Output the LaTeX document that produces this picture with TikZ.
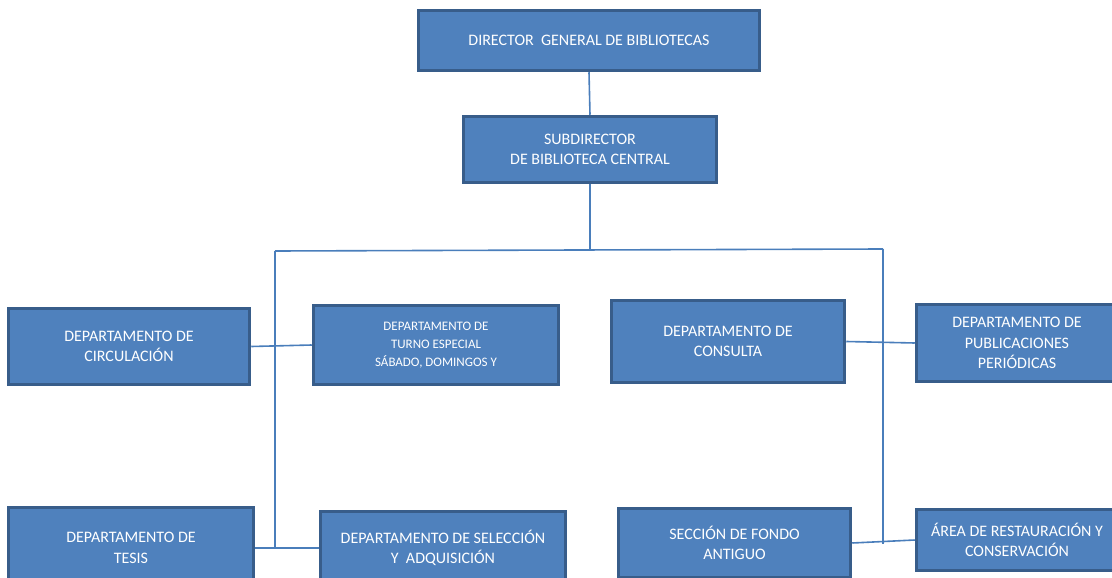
\documentclass[tikz,border=0pt]{standalone}
\usepackage{fontspec}
\setmainfont{Carlito}
\definecolor{boxfill}{HTML}{4F81BD}
\definecolor{boxline}{HTML}{385D8A}
\definecolor{linkline}{HTML}{4A7EBB}

\begin{document}
\begin{tikzpicture}[x=1pt,y=-1pt,
  unit/.style={draw=boxline,line width=3.5pt,fill=boxfill,text=white,align=center,inner sep=0pt,
    font=\fontsize{16}{20.5}\selectfont},
  small/.style={font=\fontsize{13}{18}\selectfont},
  link/.style={draw=linkline,line width=1.6pt}]
  \path[use as bounding box] (0,0) rectangle (1112,578);

  \node[unit,minimum width=341pt,minimum height=60pt] (dir) at (589,40.5) {DIRECTOR\ \ GENERAL DE BIBLIOTECAS};
  \node[unit,minimum width=253pt,minimum height=66pt] (sub) at (590,149.5) {SUBDIRECTOR\\DE BIBLIOTECA CENTRAL};

  \node[unit,minimum width=241pt,minimum height=76pt] (circ) at (129,346.5) {DEPARTAMENTO DE\\CIRCULACIÓN};
  \node[unit,small,minimum width=245pt,minimum height=79pt] (turno) at (436,345) {DEPARTAMENTO DE\\TURNO ESPECIAL\\SÁBADO, DOMINGOS Y};
  \node[unit,minimum width=233pt,minimum height=82pt] (cons) at (728,341.5) {DEPARTAMENTO DE\\CONSULTA};
  \node[unit,minimum width=201pt,minimum height=77pt] (publ) at (1017,343) {DEPARTAMENTO DE\\PUBLICACIONES\\PERIÓDICAS};

  \node[unit,minimum width=245pt,minimum height=81pt] (tesis) at (131,548) {DEPARTAMENTO DE\\TESIS};
  \node[unit,minimum width=245pt,minimum height=73pt] (selec) at (443,548) {DEPARTAMENTO DE SELECCIÓN\\Y\ \ ADQUISICIÓN};
  \node[unit,minimum width=232pt,minimum height=69pt] (fondo) at (734.5,543) {SECCIÓN DE FONDO\\ANTIGUO};
  \node[unit,minimum width=201pt,minimum height=61pt] (resta) at (1017,540) {ÁREA DE RESTAURACIÓN Y\\CONSERVACIÓN};

  \coordinate (top) at (590,250);
  \coordinate (hl) at (275,251);
  \coordinate (hr) at (883,249);
  \coordinate (ll) at (275,548);
  \coordinate (lr) at (883,544);

  \draw[link] (dir.south) -- (sub.north);
  \draw[link] (sub.south) -- (top);
  \draw[link] (hl) -- (hr);
  \draw[link] (hl) -- (ll);
  \draw[link] (hr) -- (lr);

  \draw[link] (circ.east) -- (turno.west);
  \draw[link] (cons.east) -- (publ.west);
  \draw[link] (tesis.east) -- (selec.west);
  \draw[link] (fondo.east) -- (resta.west);
\end{tikzpicture}
\end{document}
